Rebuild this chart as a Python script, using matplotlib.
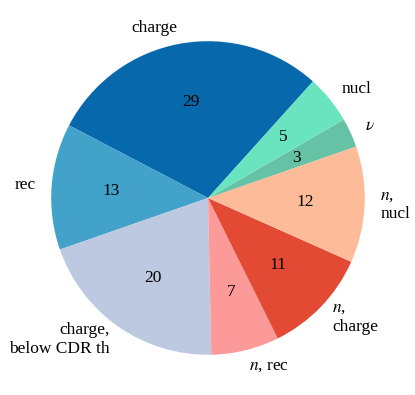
import matplotlib
matplotlib.use("Agg")
import matplotlib.pyplot as plt

plt.rcParams['font.family'] = ['Liberation Serif', 'DejaVu Serif']
plt.rcParams['mathtext.fontset'] = 'stix'

labels = ['charge', 'rec', 'charge,\nbelow CDR th', '$n$, rec', '$n$,\ncharge',
          '$n$,\nnucl', r'$\nu$', 'nucl']
values = [29, 13, 20, 7, 11, 12, 3, 5]
colors = ['#0868ac', '#43a2ca', '#bdc9e1', '#fc9a9a', '#e34a33',
          '#fdbb99', '#66c2a5', '#6ae3bf']

fig = plt.figure(figsize=(4.15, 3.95), dpi=100)
ax = fig.add_axes([12 / 415, 1 / 395, 392 / 415, 392 / 395])

wedges, texts, autotexts = ax.pie(values, labels=labels, colors=colors,
                                  startangle=48, counterclock=True,
                                  autopct=lambda p: '%.0f' % p,
                                  pctdistance=0.62, labeldistance=1.1,
                                  textprops={'fontsize': 12.5})
ax.set_aspect('equal')

fig.savefig('out.png', dpi=100)
